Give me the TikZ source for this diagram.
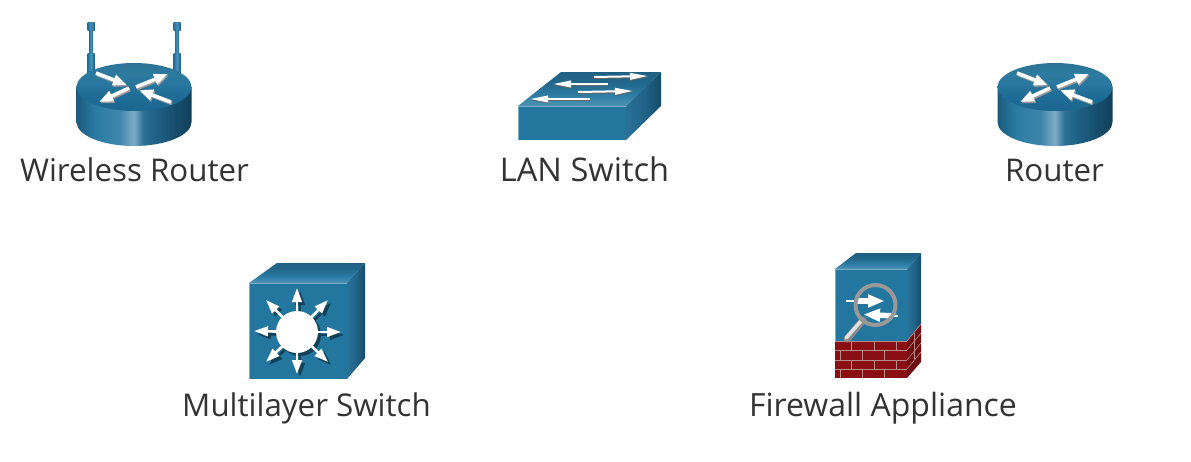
\documentclass[tikz,border=0pt]{standalone}
\usepackage{fontspec}
\setmainfont{Open Sans}
\usetikzlibrary{arrows.meta}
\definecolor{frontblue}{HTML}{23779F}
\definecolor{labelgray}{HTML}{333333}
\definecolor{brickred}{HTML}{8A0F14}
\definecolor{mortar}{HTML}{B98A8A}
\definecolor{cA}{HTML}{1B5A7E}
\definecolor{cB}{HTML}{2A7AA3}
\definecolor{cC}{HTML}{3F87AE}
\definecolor{cD}{HTML}{7FACC6}
\definecolor{cE}{HTML}{2C7095}
\definecolor{cF}{HTML}{1E5F83}
\definecolor{cG}{HTML}{113F5A}
\definecolor{tA}{HTML}{1C668F}
\definecolor{tB}{HTML}{1E6C96}
\definecolor{tC}{HTML}{2A779F}
\definecolor{tD}{HTML}{2E7A9F}
\definecolor{tE}{HTML}{2C7195}
\definecolor{bB}{HTML}{4E94B6}
\definecolor{bC}{HTML}{2F7EA5}
\definecolor{bD}{HTML}{22688C}
\definecolor{bE}{HTML}{1F5F82}
\definecolor{sB}{HTML}{2A7199}
\definecolor{sC}{HTML}{226488}
\definecolor{sD}{HTML}{154C6B}
\definecolor{aA}{HTML}{1F6F99}
\definecolor{aB}{HTML}{4A93B8}
\definecolor{aC}{HTML}{1C5F85}
\pgfdeclarehorizontalshading{cylside}{100bp}{
 color(0bp)=(cA); color(25bp)=(cA); color(33bp)=(cB);
 color(44bp)=(cC); color(50bp)=(cD); color(54bp)=(cE);
 color(60bp)=(cF); color(75bp)=(cG); color(100bp)=(cG)}
\pgfdeclareverticalshading{cyltop}{100bp}{
 color(0bp)=(tA); color(25bp)=(tA); color(40bp)=(tB); color(55bp)=(tC); color(65bp)=(tD); color(75bp)=(tE); color(100bp)=(tE)}
\pgfdeclareverticalshading{boxtop}{100bp}{
 color(0bp)=(bB); color(25bp)=(bB); color(40bp)=(bC); color(58bp)=(bD); color(75bp)=(bE); color(100bp)=(bE)}
\pgfdeclarehorizontalshading{boxside}{100bp}{
 color(0bp)=(sB); color(25bp)=(sB); color(50bp)=(sC); color(75bp)=(sD); color(100bp)=(sD)}
\pgfdeclarehorizontalshading{antshade}{100bp}{
 color(0bp)=(aA); color(25bp)=(aA); color(50bp)=(aB); color(75bp)=(aC); color(100bp)=(aC)}
\tikzset{
 devlabel/.style={anchor=base,text=labelgray,font=\fontsize{31.3}{36}\selectfont,inner sep=0pt},
 whitearrow/.style={white,line width=3.6pt,-{Triangle[width=10.5pt,length=14pt]}},
 arrowshade/.style={black!40,line width=3.6pt,-{Triangle[width=10.5pt,length=14pt]}},
 thinarrow/.style={white,line width=2pt,-{Triangle[width=6.5pt,length=18pt]}},
 thinshade/.style={black!60,line width=2pt,-{Triangle[width=6.5pt,length=18pt]}},
 hubarrow/.style={white,line width=2.6pt,-{Triangle[width=9.5pt,length=14pt]}},
 hubshade/.style={black!45!frontblue,line width=2.6pt,-{Triangle[width=9.5pt,length=14pt]}},
 fwarrow/.style={white,line width=2pt,-{Triangle[width=13pt,length=16pt]}},
 brickline/.style={mortar,line width=0.6pt},
}
% cylinder router centred on the top face
\newcommand{\routerbody}[2]{%
 \begin{scope}[shift={(#1,#2)}]
  \path[shading=cylside] (-57.5,0) -- (-57.5,35) arc[start angle=180,end angle=0,x radius=57.5,y radius=24] -- (57.5,0) -- cycle;
  \path[shading=cyltop] (0,0) ellipse[x radius=57.5,y radius=24];
  \foreach \ax/\ay/\bx/\by in {-38/-14/-7/-2, 2/0/34/-13, -5/1/-35/15, 37/15/5/3}{
   \draw[arrowshade] (\ax+1,\ay+1.5) -- (\bx+1,\by+1.5);
   \draw[whitearrow] (\ax,\ay) -- (\bx,\by);
  }
 \end{scope}}
\newcommand{\antenna}[1]{%
 \path[shading=antshade] (#1-3.5,22) rectangle (#1+3.5,30);
 \path[shading=antshade] (#1-2,30) rectangle (#1+2,53);
 \path[shading=antshade] (#1-3.5,53) rectangle (#1+3.5,76);}
\begin{document}
\begin{tikzpicture}[x=1pt,y=-1pt]
\useasboundingbox (0,0) rectangle (1191,461);
% Wireless router
\antenna{91}\antenna{177}
\routerbody{134}{87}
\node[devlabel] (wr) at (134.5,181) {Wireless Router};
% LAN switch
\path[shading=boxtop] (518,106) -- (561,72) -- (661,72) -- (626,106) -- cycle;
\path[fill=frontblue] (518,106) rectangle (626,140);
\draw[white!40!frontblue,line width=0.7pt] (518,140) -- (518,106) -- (626,106);
\path[shading=boxside] (626,106) -- (661,72) -- (661,106) -- (626,140) -- cycle;
\foreach \ax/\ay/\bx/\by in {594/77/648/76, 608/84/553/84, 578/92/633/91, 590/99/530/99}{
 \draw[thinshade] (\ax,\ay+1) -- (\bx,\by+1);
 \draw[thinarrow] (\ax,\ay) -- (\bx,\by);
}
\node[devlabel,font=\fontsize{32.6}{36}\selectfont] (ls) at (584.5,181) {LAN Switch};
% Router
\routerbody{1055}{87}
\node[devlabel] (rt) at (1054.5,181) {Router};
% Multilayer switch
\path[shading=boxtop] (249,283) -- (277,263) -- (365,263) -- (347,283) -- cycle;
\path[fill=frontblue] (249,283) rectangle (347,379);
\draw[white!40!frontblue,line width=0.7pt] (249,379) -- (249,283) -- (347,283);
\path[shading=boxside] (347,283) -- (365,263) -- (365,358) -- (347,379) -- cycle;
\foreach \tx/\ty in {297/288, 328/300, 341/332, 328/362, 297/374, 266/362, 254/331, 266/300}{
 \draw[hubshade] (300,335) -- (\tx+3,\ty+3);
}
\fill[black!45!frontblue] (300,335) circle[radius=21];
\foreach \tx/\ty in {297/288, 328/300, 341/332, 328/362, 297/374, 266/362, 254/331, 266/300}{
 \draw[hubarrow] (297,332) -- (\tx,\ty);
}
\fill[white] (297,332) circle[radius=21];
\node[devlabel] (ms) at (306.5,416) {Multilayer Switch};
% Firewall appliance
\path[shading=boxtop] (835,269) -- (856,253) -- (921,253) -- (907,269) -- cycle;
\path[fill=frontblue] (835,269) rectangle (907,341);
\draw[white!40!frontblue,line width=0.7pt] (835,341) -- (835,269) -- (907,269);
\path[shading=boxside] (907,269) -- (921,253) -- (921,324) -- (907,341) -- cycle;
\path[fill=brickred] (835,341) rectangle (907,378);
\path[fill=brickred!80!black] (907,341) -- (921,324) -- (921,362) -- (907,378) -- cycle;
\foreach \yy in {341,350,360,369}{\draw[brickline] (835,\yy) -- (907,\yy);}
\foreach \yy in {0,9,19,28}{\draw[brickline] (907,341+\yy) -- (921,324+\yy);}
\foreach \xx in {851,874,896}{\draw[brickline] (\xx,341) -- (\xx,350);\draw[brickline] (\xx,360) -- (\xx,369);}
\foreach \xx in {840,862,884}{\draw[brickline] (\xx,350) -- (\xx,360);\draw[brickline] (\xx,369) -- (\xx,378);}
\foreach \off in {0,9,18}{\draw[brickline] (914,332.5+\off) -- (914,342+\off);}
% magnifier
\draw[line cap=round,line width=7pt,black!45] (863,320) -- (847,339);
\draw[line cap=round,line width=3.5pt,black!12] (862,320) -- (846,338);
\draw[fwarrow] (846,301) -- (884,301);
\draw[white,line width=5.5pt] (855,301) -- (870,301);
\draw[fwarrow] (898,316) -- (864,314.5);
\draw[white,line width=5.5pt] (893,315.8) -- (873,315);
\draw[line width=4pt,black!40] (875.5,305) circle[radius=20];
\node[devlabel,font=\fontsize{32}{36}\selectfont] (fw) at (883,416) {Firewall Appliance};
\end{tikzpicture}
\end{document}
